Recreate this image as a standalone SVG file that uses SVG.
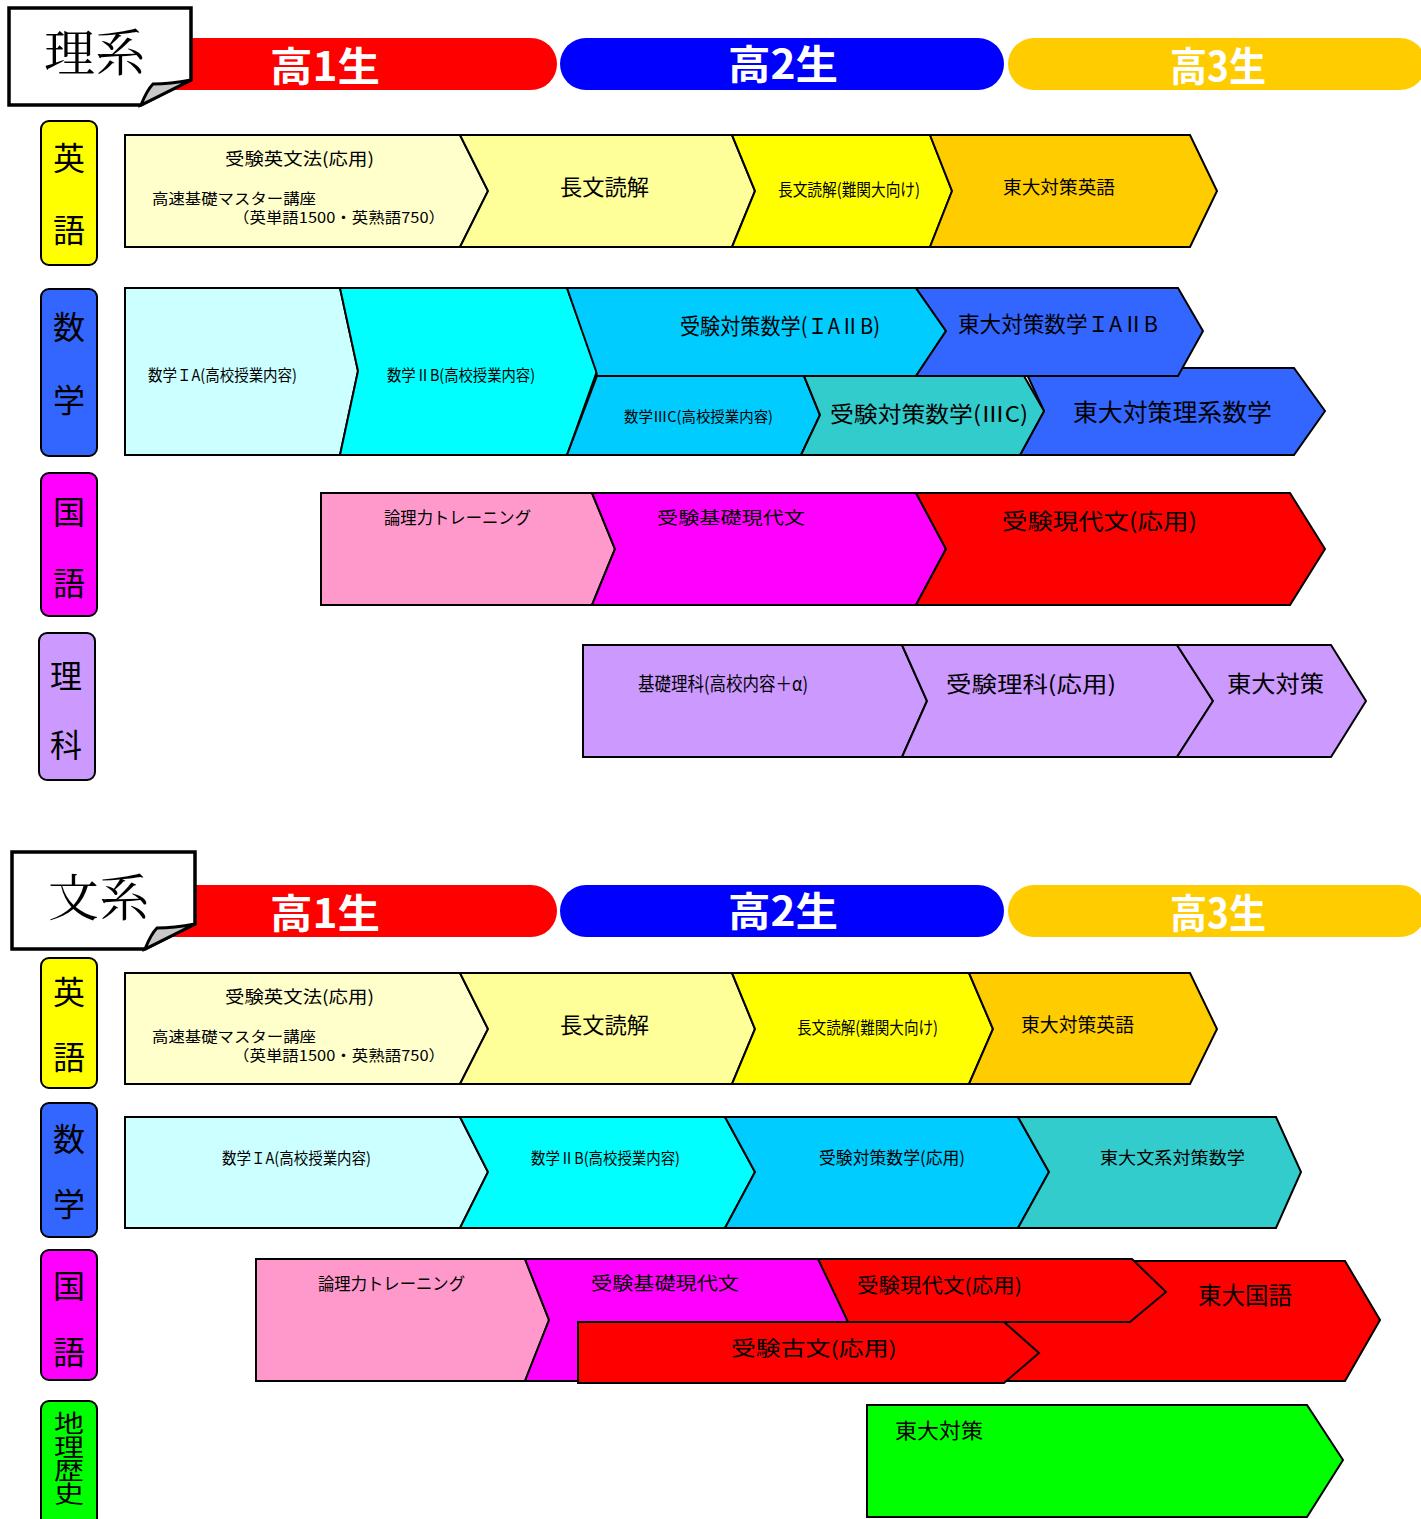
<svg xmlns="http://www.w3.org/2000/svg" width="1421" height="1519" viewBox="0 0 1421 1519">
<style>
.s{stroke:#000;stroke-width:2;stroke-linejoin:miter}
.t{font-family:"Noto Sans CJK JP","Noto Sans CJK SC",sans-serif;fill:#000}
.h{font-family:"Noto Sans CJK JP",sans-serif;fill:#fff;font-weight:bold;font-size:40px;text-anchor:middle}
.lab{font-family:"Noto Sans CJK JP",sans-serif;fill:#000;font-size:32px;text-anchor:middle}
.tag{fill:#fff;stroke:#000;stroke-width:3.5}
.flap{fill:#c8c8c8;stroke:#000;stroke-width:3}
.tt{font-family:"Noto Serif CJK JP","Noto Sans CJK JP",serif;font-size:50px;fill:#000}
</style>
<rect width="1421" height="1519" fill="#fff"/>

<!-- ===== 理系 header ===== -->
<g id="header-rikei">
<path d="M165,38 H531 A26,26 0 0 1 531,90 H165 Z" fill="#ff0000"/>
<rect x="560" y="38" width="444" height="52" rx="26" fill="#0000ff"/>
<rect x="1008" y="38" width="418" height="52" rx="26" fill="#ffcc00"/>
<text class="h" x="325" y="81" textLength="110" lengthAdjust="spacingAndGlyphs">高1生</text>
<text class="h" x="783" y="79" textLength="110" lengthAdjust="spacingAndGlyphs">高2生</text>
<text class="h" x="1218" y="81" textLength="96" lengthAdjust="spacingAndGlyphs">高3生</text>
</g>
<g id="tag-rikei">
<path class="tag" d="M9,8 H191 V80 L141,105 H9 Z"/>
<path class="flap" d="M141,105 Q147,90 153,84 Q170,84 191,80 Z"/>
<text class="tt" x="44" y="71" textLength="102" lengthAdjust="spacingAndGlyphs">理系</text>
</g>

<!-- subject labels 理系 -->
<g id="lab-eng-r"><rect class="s" x="41" y="121" width="56" height="144" rx="8" fill="#ffff00"/>
<text class="lab" x="69" y="170">英</text><text class="lab" x="69" y="242">語</text></g>
<g id="lab-math-r"><rect class="s" x="41" y="289" width="56" height="167" rx="8" fill="#3366ff"/>
<text class="lab" x="69" y="339">数</text><text class="lab" x="69" y="412">学</text></g>
<g id="lab-jp-r"><rect class="s" x="41" y="473" width="56" height="143" rx="8" fill="#ff00ff"/>
<text class="lab" x="69" y="524">国</text><text class="lab" x="69" y="595">語</text></g>
<g id="lab-sci-r"><rect class="s" x="39" y="633" width="56" height="147" rx="8" fill="#cc99ff"/>
<text class="lab" x="66" y="688">理</text><text class="lab" x="66" y="757">科</text></g>

<!-- English 理系 -->
<g id="r-eng-1"><path class="s" d="M125,135 H460 L488,191 L460,247 H125 Z" fill="#ffffcc"/>
<text class="t" x="225" y="165" font-size="17" textLength="149" lengthAdjust="spacingAndGlyphs">受験英文法(応用)</text>
<text class="t" x="152" y="204" font-size="15" textLength="164" lengthAdjust="spacingAndGlyphs">高速基礎マスター講座</text>
<text class="t" x="233" y="223" font-size="15" textLength="212" lengthAdjust="spacingAndGlyphs">（英単語1500・英熟語750）</text></g>
<g id="r-eng-2"><path class="s" d="M460,135 H732 L755,191 L732,247 H460 L488,191 Z" fill="#ffff99"/>
<text class="t" x="560" y="195" font-size="22" textLength="89" lengthAdjust="spacingAndGlyphs">長文読解</text></g>
<g id="r-eng-3"><path class="s" d="M732,135 H930 L952,191 L930,247 H732 L755,191 Z" fill="#ffff00"/>
<text class="t" x="778" y="196" font-size="17" textLength="142" lengthAdjust="spacingAndGlyphs">長文読解(難関大向け)</text></g>
<g id="r-eng-4"><path class="s" d="M930,135 H1190 L1217,191 L1190,247 H930 L952,191 Z" fill="#ffcc00"/>
<text class="t" x="1003" y="194" font-size="18" textLength="112" lengthAdjust="spacingAndGlyphs">東大対策英語</text></g>

<!-- Math 理系 -->
<g id="r-math-1"><path class="s" d="M125,288 H340 L358,371 L340,455 H125 Z" fill="#ccffff"/>
<text class="t" x="148" y="381" font-size="16" textLength="149" lengthAdjust="spacingAndGlyphs">数学ＩA(高校授業内容)</text></g>
<g id="r-math-2"><path class="s" d="M340,288 H567 L597,371 L567,455 H340 L358,371 Z" fill="#00ffff"/>
<text class="t" x="387" y="381" font-size="16" textLength="148" lengthAdjust="spacingAndGlyphs">数学ⅡB(高校授業内容)</text></g>
<g id="r-math-6"><path class="s" d="M1024,368 H1294 L1325,411 L1294,455 H1020 L1044,411 Z" fill="#3366ff"/>
<text class="t" x="1073" y="421" font-size="24" textLength="199" lengthAdjust="spacingAndGlyphs">東大対策理系数学</text></g>
<g id="r-math-3"><path class="s" d="M567,288 H916 L946,331 L916,376 H597 L596,371 Z" fill="#00ccff"/>
<text class="t" x="680" y="334" font-size="22" textLength="200" lengthAdjust="spacingAndGlyphs">受験対策数学(ＩAⅡB)</text></g>
<g id="r-math-4"><path class="s" d="M916,288 H1178 L1203,331 L1178,376 H916 L946,331 Z" fill="#3366ff"/>
<text class="t" x="958" y="332" font-size="22" textLength="200" lengthAdjust="spacingAndGlyphs">東大対策数学ＩAⅡB</text></g>
<g id="r-math-5"><path class="s" d="M597,376 H804 L820,415 L801,455 H567 Z" fill="#00ccff"/>
<text class="t" x="624" y="422" font-size="15" textLength="149" lengthAdjust="spacingAndGlyphs">数学ⅢC(高校授業内容)</text></g>
<g id="r-math-7"><path class="s" d="M804,376 H1024 L1044,411 L1020,455 H801 L820,415 Z" fill="#33cccc"/>
<text class="t" x="830" y="422" font-size="22" textLength="198" lengthAdjust="spacingAndGlyphs">受験対策数学(ⅢC)</text></g>

<!-- Japanese 理系 -->
<g id="r-jp-1"><path class="s" d="M321,493 H592 L615,549 L592,605 H321 Z" fill="#ff99cc"/>
<text class="t" x="384" y="524" font-size="17" textLength="147" lengthAdjust="spacingAndGlyphs">論理力トレーニング</text></g>
<g id="r-jp-2"><path class="s" d="M592,493 H916 L946,549 L916,605 H592 L615,549 Z" fill="#ff00ff"/>
<text class="t" x="657" y="524" font-size="17" textLength="148" lengthAdjust="spacingAndGlyphs">受験基礎現代文</text></g>
<g id="r-jp-3"><path class="s" d="M916,493 H1290 L1325,549 L1290,605 H916 L946,549 Z" fill="#ff0000"/>
<text class="t" x="1002" y="529" font-size="22" textLength="195" lengthAdjust="spacingAndGlyphs">受験現代文(応用)</text></g>

<!-- Science 理系 -->
<g id="r-sci-1"><path class="s" d="M583,645 H902 L927,701 L902,757 H583 Z" fill="#cc99ff"/>
<text class="t" x="638" y="691" font-size="19" textLength="170" lengthAdjust="spacingAndGlyphs">基礎理科(高校内容＋α)</text></g>
<g id="r-sci-2"><path class="s" d="M902,645 H1177 L1213,701 L1177,757 H902 L927,701 Z" fill="#cc99ff"/>
<text class="t" x="946" y="692" font-size="22" textLength="170" lengthAdjust="spacingAndGlyphs">受験理科(応用)</text></g>
<g id="r-sci-3"><path class="s" d="M1177,645 H1331 L1366,701 L1331,757 H1177 L1213,701 Z" fill="#cc99ff"/>
<text class="t" x="1227" y="692" font-size="23" textLength="97" lengthAdjust="spacingAndGlyphs">東大対策</text></g>

<!-- ===== 文系 header ===== -->
<g id="header-bunkei">
<path d="M170,885 H531 A26,26 0 0 1 531,937 H170 Z" fill="#ff0000"/>
<rect x="560" y="885" width="444" height="52" rx="26" fill="#0000ff"/>
<rect x="1008" y="885" width="418" height="52" rx="26" fill="#ffcc00"/>
<text class="h" x="325" y="928" textLength="110" lengthAdjust="spacingAndGlyphs">高1生</text>
<text class="h" x="783" y="926" textLength="110" lengthAdjust="spacingAndGlyphs">高2生</text>
<text class="h" x="1218" y="928" textLength="96" lengthAdjust="spacingAndGlyphs">高3生</text>
</g>
<g id="tag-bunkei">
<path class="tag" d="M12,852 H195 V924 L145,949 H12 Z"/>
<path class="flap" d="M145,949 Q151,934 157,928 Q174,928 195,924 Z"/>
<text class="tt" x="48" y="916" textLength="102" lengthAdjust="spacingAndGlyphs">文系</text>
</g>

<!-- subject labels 文系 -->
<g id="lab-eng-b"><rect class="s" x="41" y="958" width="56" height="130" rx="8" fill="#ffff00"/>
<text class="lab" x="69" y="1004">英</text><text class="lab" x="69" y="1069">語</text></g>
<g id="lab-math-b"><rect class="s" x="41" y="1103" width="56" height="134" rx="8" fill="#3366ff"/>
<text class="lab" x="69" y="1151">数</text><text class="lab" x="69" y="1216">学</text></g>
<g id="lab-jp-b"><rect class="s" x="41" y="1250" width="56" height="130" rx="8" fill="#ff00ff"/>
<text class="lab" x="69" y="1298">国</text><text class="lab" x="69" y="1364">語</text></g>
<g id="lab-hist-b"><rect class="s" x="41" y="1401" width="56" height="130" rx="8" fill="#00ff00"/>
<g transform="translate(69,0) scale(1.2,1) translate(-69,0)">
<text class="t" x="69" y="1411" font-size="25" writing-mode="vertical-rl" textLength="95" lengthAdjust="spacingAndGlyphs">地理歴史</text></g></g>

<!-- English 文系 -->
<g id="b-eng-1"><path class="s" d="M125,973 H460 L488,1029 L460,1084 H125 Z" fill="#ffffcc"/>
<text class="t" x="225" y="1003" font-size="17" textLength="149" lengthAdjust="spacingAndGlyphs">受験英文法(応用)</text>
<text class="t" x="152" y="1042" font-size="15" textLength="164" lengthAdjust="spacingAndGlyphs">高速基礎マスター講座</text>
<text class="t" x="233" y="1061" font-size="15" textLength="212" lengthAdjust="spacingAndGlyphs">（英単語1500・英熟語750）</text></g>
<g id="b-eng-2"><path class="s" d="M460,973 H732 L755,1029 L732,1084 H460 L488,1029 Z" fill="#ffff99"/>
<text class="t" x="560" y="1033" font-size="22" textLength="89" lengthAdjust="spacingAndGlyphs">長文読解</text></g>
<g id="b-eng-3"><path class="s" d="M732,973 H969 L993,1029 L969,1084 H732 L755,1029 Z" fill="#ffff00"/>
<text class="t" x="797" y="1034" font-size="17" textLength="141" lengthAdjust="spacingAndGlyphs">長文読解(難関大向け)</text></g>
<g id="b-eng-4"><path class="s" d="M969,973 H1190 L1217,1029 L1190,1084 H969 L993,1029 Z" fill="#ffcc00"/>
<text class="t" x="1021" y="1032" font-size="19" textLength="113" lengthAdjust="spacingAndGlyphs">東大対策英語</text></g>

<!-- Math 文系 -->
<g id="b-math-1"><path class="s" d="M125,1117 H460 L488,1172 L460,1228 H125 Z" fill="#ccffff"/>
<text class="t" x="222" y="1164" font-size="16" textLength="149" lengthAdjust="spacingAndGlyphs">数学ＩA(高校授業内容)</text></g>
<g id="b-math-2"><path class="s" d="M460,1117 H725 L755,1172 L725,1228 H460 L488,1172 Z" fill="#00ffff"/>
<text class="t" x="531" y="1164" font-size="16" textLength="149" lengthAdjust="spacingAndGlyphs">数学ⅡB(高校授業内容)</text></g>
<g id="b-math-3"><path class="s" d="M725,1117 H1018 L1049,1172 L1018,1228 H725 L755,1172 Z" fill="#00ccff"/>
<text class="t" x="819" y="1164" font-size="17" textLength="146" lengthAdjust="spacingAndGlyphs">受験対策数学(応用)</text></g>
<g id="b-math-4"><path class="s" d="M1018,1117 H1276 L1301,1172 L1276,1228 H1018 L1049,1172 Z" fill="#33cccc"/>
<text class="t" x="1100" y="1164" font-size="17" textLength="145" lengthAdjust="spacingAndGlyphs">東大文系対策数学</text></g>

<!-- Japanese 文系 -->
<g id="b-jp-1"><path class="s" d="M256,1259 H525 L549,1320 L525,1381 H256 Z" fill="#ff99cc"/>
<text class="t" x="318" y="1290" font-size="17" textLength="147" lengthAdjust="spacingAndGlyphs">論理力トレーニング</text></g>
<g id="b-jp-2"><path class="s" d="M525,1259 H818 L852,1320 L830,1381 H525 L549,1320 Z" fill="#ff00ff"/>
<text class="t" x="591" y="1290" font-size="18" textLength="148" lengthAdjust="spacingAndGlyphs">受験基礎現代文</text></g>
<g id="b-jp-5"><path class="s" d="M1100,1261 H1345 L1380,1320 L1345,1381 H1000 V1322 H1100 Z" fill="#ff0000"/>
<text class="t" x="1198" y="1304" font-size="24" textLength="94" lengthAdjust="spacingAndGlyphs">東大国語</text></g>
<g id="b-jp-3"><path class="s" d="M818,1259 H1132 L1166,1292 L1130,1322 H848 Z" fill="#ff0000"/>
<text class="t" x="857" y="1293" font-size="20" textLength="165" lengthAdjust="spacingAndGlyphs">受験現代文(応用)</text></g>
<g id="b-jp-4"><path class="s" d="M578,1322 H1004 L1039,1353 L1004,1383 H578 Z" fill="#ff0000"/>
<text class="t" x="731" y="1356" font-size="20" textLength="166" lengthAdjust="spacingAndGlyphs">受験古文(応用)</text></g>

<!-- History 文系 -->
<g id="b-hist-1"><path class="s" d="M867,1405 H1307 L1343,1460 L1307,1517 H867 Z" fill="#00ff00"/>
<text class="t" x="895" y="1438" font-size="21" textLength="88" lengthAdjust="spacingAndGlyphs">東大対策</text></g>

<g id="connectors"></g>
</svg>
